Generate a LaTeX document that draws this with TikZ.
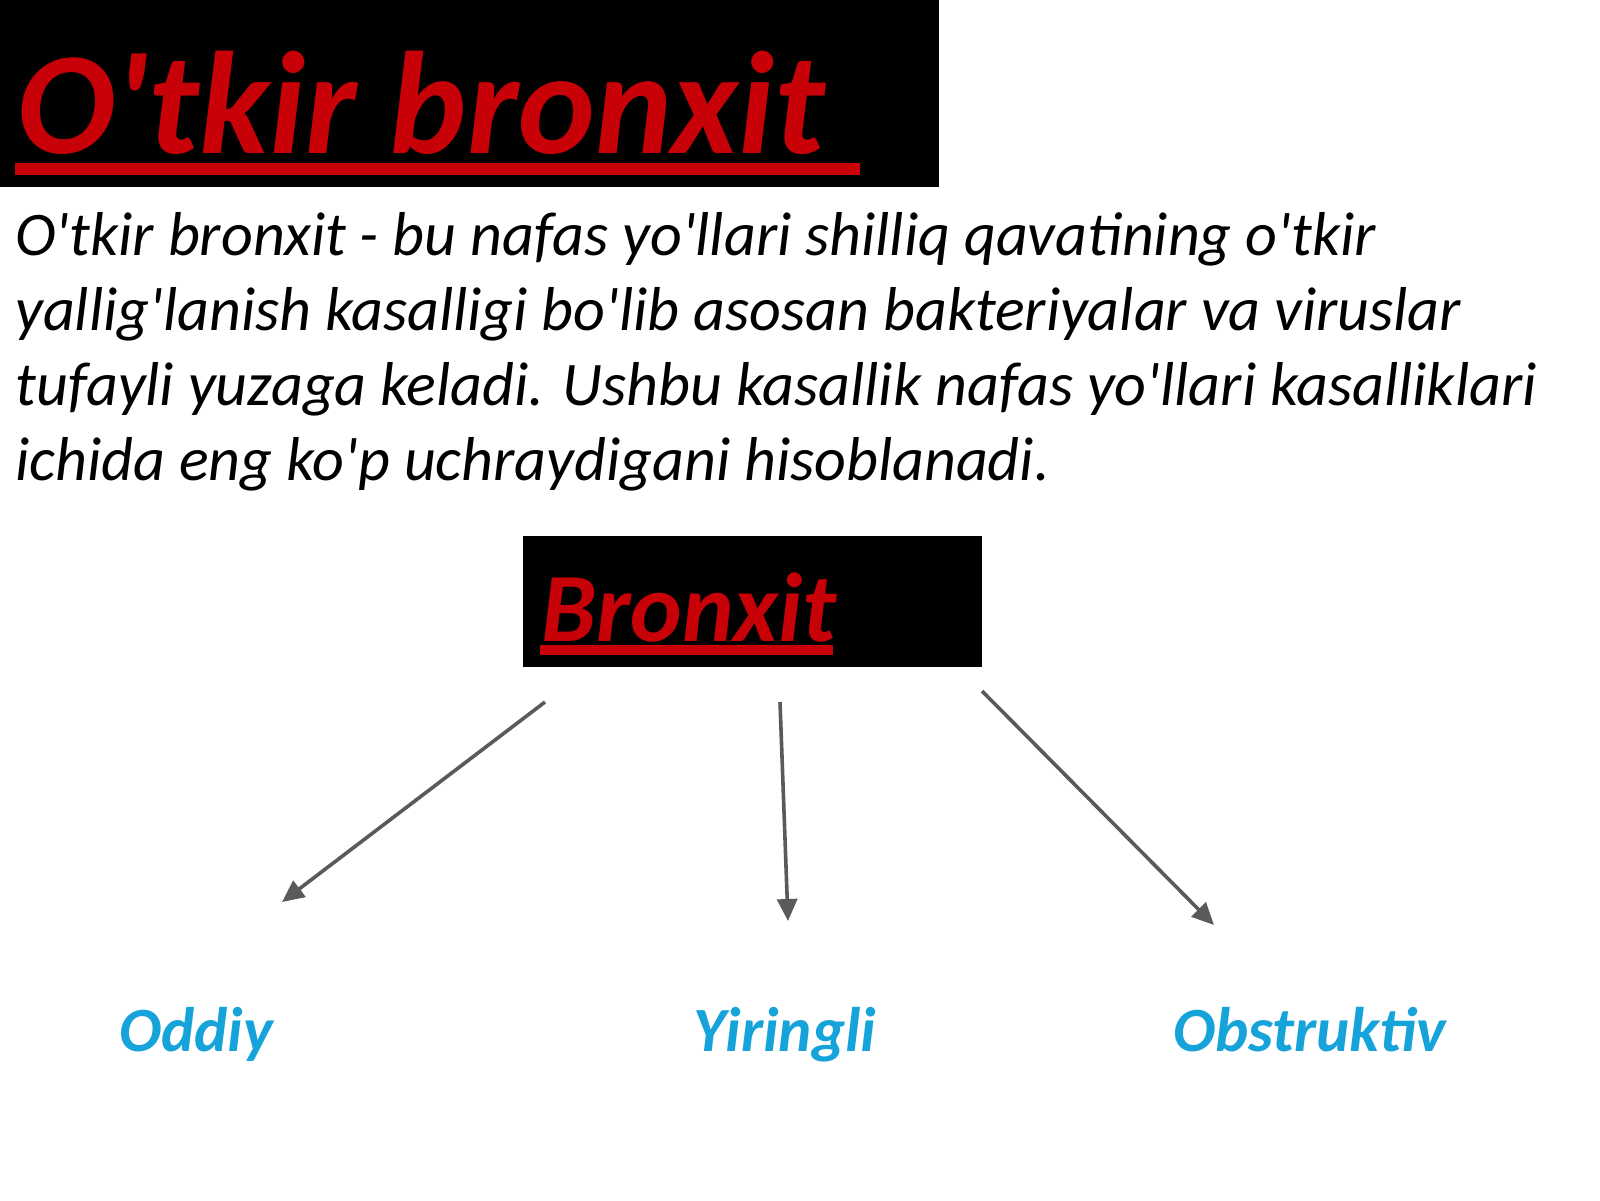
\documentclass[tikz,border=0pt]{standalone}
\usepackage{fontspec}
\setmainfont{Carlito}[Ligatures=TeXOff]
\usetikzlibrary{arrows.meta}
\definecolor{titlered}{RGB}{200,0,8}
\definecolor{kindblue}{RGB}{22,163,218}
\definecolor{arrowgray}{RGB}{90,90,90}
\tikzset{
  every node/.style={inner sep=0pt},
  kind/.style={font=\fontsize{31.5}{38}\selectfont\bfseries\itshape,text=kindblue,anchor=base},
  branch/.style={draw=arrowgray,line width=1.8pt,-{Triangle[length=11pt,width=10pt]}},
}

\begin{document}
\begin{tikzpicture}[x=0.5pt,y=-0.5pt]
\useasboundingbox (0,0) rectangle (1600,1200);
\fill[white] (0,0) rectangle (1600,1200);
% title bar
\fill[black] (0,0) rectangle (939,187);
\node[anchor=base west,text=titlered,font=\fontsize{73}{80}\selectfont\bfseries\itshape] (title) at (17,153) {O'tkir bronxit};
\fill[titlered] (15,163) rectangle (860,175);
% definition
\node[anchor=north west,align=left,font=\fontsize{31}{37.5}\selectfont\itshape] (def) at (15,212)
  {O'tkir bronxit - bu nafas yo'llari shilliq qavatining o'tkir\\
   yallig'lanish kasalligi bo'lib asosan bakteriyalar va viruslar\\
   tufayli yuzaga keladi. Ushbu kasallik nafas yo'llari kasalliklari\\
   ichida eng ko'p uchraydigani hisoblanadi.};
% root box
\node[anchor=north west,fill=black,minimum width=229.5pt,minimum height=65.5pt] (root) at (523,536) {};
\node[anchor=base west,text=titlered,font=\fontsize{49}{54}\selectfont\bfseries\itshape] (rootlbl) at (541,641) {Bronxit};
\fill[titlered] (540,645) rectangle (833,655);
% kinds
\node[kind] (oddiy) at (196,1051) {Oddiy};
\node[kind] (yiringli) at (785,1051) {Yiringli};
\node[kind] (obstr) at (1310,1051) {Obstruktiv};
\coordinate (o-from) at (545,702);
\coordinate (o-to) at (282,902);
\coordinate (y-from) at (780,702);
\coordinate (y-to) at (788,921);
\coordinate (b-from) at (982,691);
\coordinate (b-to) at (1214,925);
\draw[branch] (o-from) -- (o-to);
\draw[branch] (y-from) -- (y-to);
\draw[branch] (b-from) -- (b-to);
\end{tikzpicture}
\end{document}
